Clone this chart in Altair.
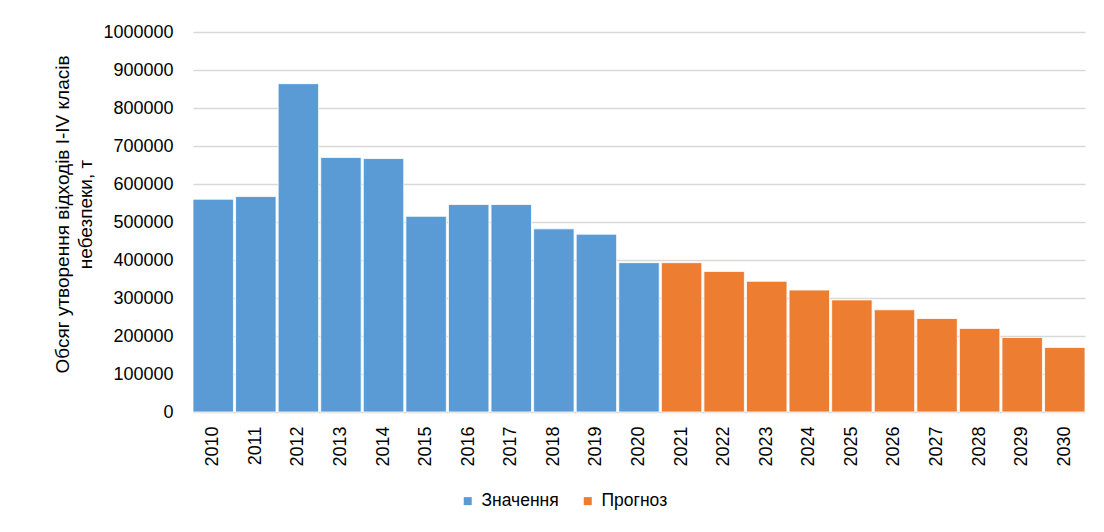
import altair as alt
import pandas as pd

years = [str(y) for y in range(2010, 2031)]
values = [560000, 567000, 864000, 670000, 667000, 515000, 546000, 546000, 482000, 468000, 393000,
          393000, 370000, 344000, 321000, 295000, 269000, 246000, 220000, 196000, 170000]
series = ["Значення"] * 11 + ["Прогноз"] * 10

df = pd.DataFrame({"year": years, "value": values, "series": series})

FONT = "Liberation Sans"

chart = alt.Chart(df).mark_bar(stroke="white", strokeWidth=0.8).encode(
    x=alt.X("year:N", title=None, sort=years,
            scale=alt.Scale(paddingInner=0.05, paddingOuter=0.0),
            axis=alt.Axis(labelAngle=270, labelAlign="right", labelBaseline="middle",
                          labelPadding=14, ticks=False, domain=True, domainColor="#d9d9d9",
                          labelFontSize=18, labelColor="#000000", labelFont=FONT)),
    y=alt.Y("value:Q", scale=alt.Scale(domain=[0, 1000000]),
            title=["Обсяг утворення відходів І-ІV класів", "небезпеки, т"],
            axis=alt.Axis(values=list(range(0, 1000001, 100000)), format="d", ticks=False,
                          domain=False, labelPadding=20, labelFontSize=18, labelColor="#000000",
                          labelFont=FONT, gridColor="#d9d9d9", gridWidth=1.3,
                          titleFont=FONT, titleFontSize=19, titleFontWeight="normal",
                          titleColor="#000000", titleX=-131, titleY=182, titleAlign="center",
                          titleBaseline="middle", titleLineHeight=23)),
    color=alt.Color("series:N", scale=alt.Scale(domain=["Значення", "Прогноз"],
                                               range=["#5B9BD5", "#ED7D31"]),
                    legend=alt.Legend(title=None, orient="none", direction="horizontal",
                                      legendX=266, legendY=460, symbolType="square",
                                      symbolSize=64, symbolStrokeWidth=0, labelFontSize=17.5,
                                      labelFont=FONT, labelColor="#000000", columnPadding=20,
                                      labelOffset=5)),
).properties(
    width=892, height=380,
    autosize=alt.AutoSizeParams(type="none"),
    padding={"left": 185, "top": 24, "right": 8, "bottom": 100},
).configure_view(stroke=None)

chart.save("out.html", embed_options={"renderer": "svg", "actions": False})
